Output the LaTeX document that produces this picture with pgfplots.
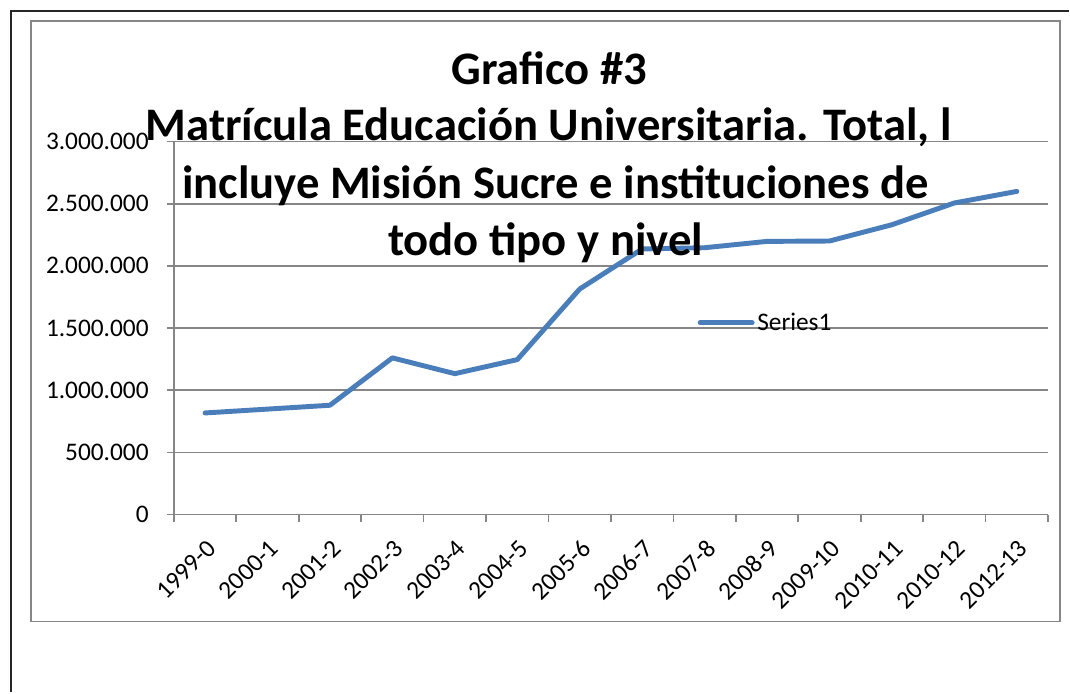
\documentclass[border=0pt]{standalone}
\usepackage{pgfplots}
\pgfplotsset{compat=1.18}
\usepackage{fontspec}
\setmainfont{Carlito}
\definecolor{serie}{HTML}{4A7EBB}
\definecolor{gridc}{HTML}{868686}
\begin{document}
\begin{tikzpicture}
\begin{scope}[x=0.75pt,y=-0.75pt]
\path (0,0) rectangle (1070,693);
\draw[line width=1.5pt, black!85] (11,693) -- (11,11) -- (1070,11);
\draw[line width=1.3pt, gridc] (31,21) rectangle (1061,622);
\end{scope}
\begin{axis}[
  at={(130.5pt,-386.25pt)}, anchor=south west, scale only axis,
  width=656.25pt, height=280pt,
  xmin=-0.5, xmax=13.5, ymin=0, ymax=3000000,
  axis x line*=bottom, axis y line*=left,
  axis line style={draw=gridc, line width=1.2pt, -},
  ytick={0,500000,1000000,1500000,2000000,2500000,3000000},
  ymajorgrids, major grid style={draw=gridc, line width=1.2pt},
  xtick={0,...,13},
  xticklabels={1999-0,2000-1,2001-2,2002-3,2003-4,2004-5,2005-6,2006-7,2007-8,2008-9,2009-10,2010-11,2010-12,2012-13},
  minor xtick={-0.5,0.5,...,13.5},
  major x tick style={draw=none},
  minor x tick style={draw=gridc, line width=1.2pt},
  major y tick style={draw=gridc, line width=1.2pt},
  tick align=outside,
  major tick length=5.25pt, minor tick length=5.25pt,
  scaled y ticks=false,
  /pgf/number format/.cd, fixed, 1000 sep={.}, assume math mode=true,
  /pgfplots/.cd,
  ticklabel style={font=\fontsize{19}{22}\selectfont},
  yticklabel style={anchor=east, inner sep=0pt, xshift=-13.5pt},
  xticklabel style={yshift=-17pt, xshift=5pt, rotate=45, anchor=east, inner sep=0pt},
  legend style={at={(0.599,0.514)}, anchor=west, draw=none, fill=none,
    font=\fontsize{19}{22}\selectfont, inner sep=0pt},
  legend image code/.code={\draw[#1, line cap=round] (0pt,0pt) -- (39pt,0pt);},
  clip=false,
]
\addplot[serie, line width=3.7pt, line cap=round, line join=round] coordinates {
(0,817000) (1,848000) (2,879000) (3,1260000) (4,1133000) (5,1246000)
(6,1814000) (7,2136000) (8,2146000) (9,2197000) (10,2200000) (11,2331000)
(12,2506000) (13,2599000)};
\addlegendentry{Series1}
\end{axis}
\begin{scope}[x=0.75pt,y=-0.75pt,every node/.style={anchor=base, inner sep=0pt, font=\bfseries\fontsize{35}{42}\selectfont}]
\node at (550,85) {Grafico \#3};
\node at (549,141) {Matrícula Educación Universitaria. Total, l};
\node at (556,199) {incluye Misión Sucre e instituciones de};
\node at (546,256) {todo tipo y nivel};
\end{scope}
\end{tikzpicture}
\end{document}
